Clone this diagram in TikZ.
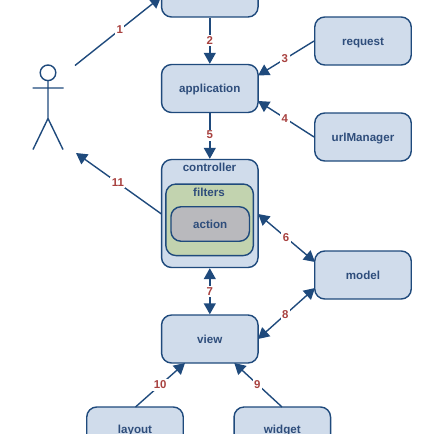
\documentclass[tikz,border=0pt]{standalone}
\usepackage{fontspec}
\setmainfont{Liberation Sans}
\usetikzlibrary{arrows.meta}
\definecolor{edge}{HTML}{1F4A7C}
\definecolor{boxfill}{HTML}{D0DCEB}
\definecolor{greenfill}{HTML}{C2D3AF}
\definecolor{grayfill}{HTML}{B9B9BD}
\definecolor{txt}{HTML}{2E4D7B}
\definecolor{num}{HTML}{A8413F}
\tikzset{
  boxstyle/.style={draw=edge,line width=1.4pt,fill=boxfill,rounded corners=10pt,inner sep=0pt,
    minimum width=96.5pt,minimum height=48pt,text=txt,font=\bfseries\fontsize{11.6}{13}\selectfont,
    text height=9pt,text depth=1pt},
  lowbox/.style={boxstyle,text height=7pt,text depth=3pt},
  caption/.style={text=txt,font=\bfseries\fontsize{11.6}{13}\selectfont,inner sep=0pt},
  conn/.style={draw=edge,line width=1.4pt,-{Triangle[length=11pt,width=12pt]}},
  both/.style={draw=edge,line width=1.4pt,{Triangle[length=11pt,width=12pt]}-{Triangle[length=11pt,width=12pt]}},
  numl/.style={fill=white,text=num,inner sep=1.5pt,font=\bfseries\fontsize{11.4}{13}\selectfont},
  actor/.style={draw=edge,line width=1.4pt}
}
\begin{document}
\begin{tikzpicture}[x=1pt,y=-1pt]
\useasboundingbox (0,0) rectangle (434,434);
\clip (0,0) rectangle (434,434);
% nodes
\node[boxstyle] (top) at (209.8,-7) {};
\node[boxstyle] (application) at (209.8,88.5) {application};
\node[boxstyle] (request) at (363,41) {request};
\node[boxstyle] (urlManager) at (363,137) {urlManager};
\node[boxstyle] (model) at (363,275) {model};
\node[boxstyle] (view) at (209.8,339) {view};
\node[lowbox] (layout) at (135,431) {layout};
\node[lowbox] (widget) at (282.3,431) {widget};
\node[boxstyle,minimum height=108pt] (controller) at (209.8,213.5) {};
\node[boxstyle,fill=greenfill,minimum width=87.5pt,minimum height=71.5pt,rounded corners=10pt] (filters) at (209.6,219.8) {};
\node[boxstyle,fill=grayfill,minimum width=78.5pt,minimum height=34.5pt,rounded corners=10pt] (action) at (210.2,224) {action};
\node[caption] (controllerlabel) at (209.5,167.5) {controller};
\node[caption] (filterslabel) at (209,192.5) {filters};
% actor
\draw[actor] (48,72.8) circle (7.8);
\draw[actor] (48,80.6) -- (48,118.5) (32.5,88) -- (63.5,88) (33,149.5) -- (48,118.5) -- (63,149.5);
% free ends and edge points
\coordinate (ua) at (75,65.5);
\coordinate (ub) at (76,153);
\coordinate (t1) at (161,-3);
\coordinate (a3) at (258,75.5);
\coordinate (a4) at (258,101);
\coordinate (c6) at (258.2,214);
\coordinate (m6) at (315,262);
\coordinate (m8) at (315,288);
\coordinate (v8) at (258,339);
\coordinate (v9) at (234.3,363);
\coordinate (w9) at (282,407);
\coordinate (l10) at (135.5,407);
\coordinate (v10) at (185,363);
\coordinate (c11) at (161.5,214);
% connectors
\draw[conn] (ua) -- node[numl,pos=.52] {1} (t1);
\draw[conn] (top.south) -- node[numl,pos=.49] {2} (application.north);
\draw[conn] (request.west) -- node[numl,pos=.52] {3} (a3);
\draw[conn] (urlManager.west) -- node[numl,pos=.52] {4} (a4);
\draw[conn] (application.south) -- node[numl,pos=.48] {5} (controller.north);
\draw[both] (c6) -- node[numl,pos=.49] {6} (m6);
\draw[both] (controller.south) -- node[numl,pos=.5] {7} (view.north);
\draw[both] (v8) -- node[numl,pos=.48] {8} (m8);
\draw[conn] (w9) -- node[numl,pos=.52] {9} (v9);
\draw[conn] (l10) -- node[numl,pos=.5] {10} (v10);
\draw[conn] (c11) -- node[numl,pos=.51] {11} (ub);
\end{tikzpicture}
\end{document}
